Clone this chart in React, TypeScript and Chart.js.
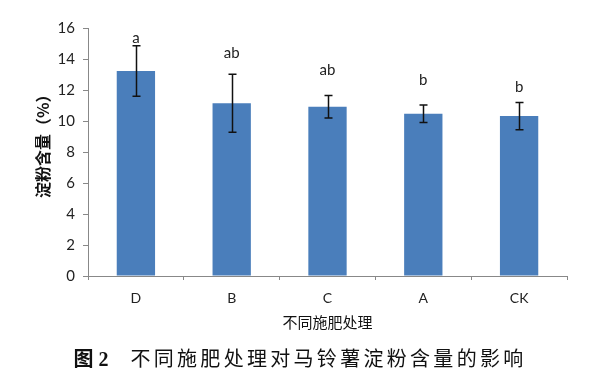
import React, { useEffect, useRef } from "react";
import { Chart, registerables } from "chart.js";

Chart.register(...registerables);

const categories = ["D", "B", "C", "A", "CK"];
const starchContent = [13.23, 11.14, 10.92, 10.47, 10.32];
const stdDev = [1.63, 1.87, 0.73, 0.57, 0.88];
const significance = ["a", "ab", "ab", "b", "b"];
const significanceHeights = [15.37, 14.39, 13.29, 12.65, 12.21];
const yMin = 0;
const yMax = 16;
const yStep = 2;

const xTitle = "不同施肥处理";
const yTitle = "　 淀粉含量（%）";
const captionLabel = "图";
const captionNumber = "2";
const captionText = "不同施肥处理对马铃薯淀粉含量的影响";

const errorBarPlugin = {
  id: "errorBars",
  afterDatasetsDraw(chart: any) {
    const meta = chart.getDatasetMeta(0);
    const yScale = chart.scales.y;
    const ctx = chart.ctx;
    ctx.save();
    ctx.strokeStyle = "#111";
    ctx.lineWidth = 1.5;
    meta.data.forEach((el: any, i: number) => {
      const x = Math.round(el.x) + 0.5;
      const top = yScale.getPixelForValue(starchContent[i] + stdDev[i]);
      const bot = yScale.getPixelForValue(starchContent[i] - stdDev[i]);
      const cap = 4;
      ctx.beginPath();
      ctx.moveTo(x, top);
      ctx.lineTo(x, bot);
      ctx.moveTo(x - cap, top);
      ctx.lineTo(x + cap, top);
      ctx.moveTo(x - cap, bot);
      ctx.lineTo(x + cap, bot);
      ctx.stroke();
    });
    ctx.restore();
  },
};

const letterPlugin = {
  id: "sigLetters",
  afterDatasetsDraw(chart: any) {
    const meta = chart.getDatasetMeta(0);
    const yScale = chart.scales.y;
    const ctx = chart.ctx;
    ctx.save();
    ctx.fillStyle = "#222";
    ctx.font = "15px Lato, 'Open Sans', sans-serif";
    ctx.textAlign = "center";
    ctx.textBaseline = "middle";
    meta.data.forEach((el: any, i: number) => {
      ctx.fillText(significance[i], el.x, yScale.getPixelForValue(significanceHeights[i]));
    });
    ctx.restore();
  },
};

export default function App() {
  const canvasRef = useRef<HTMLCanvasElement | null>(null);

  useEffect(() => {
    if (!canvasRef.current) return;
    const chart = new Chart(canvasRef.current, {
      type: "bar",
      data: {
        labels: categories,
        datasets: [
          {
            data: starchContent,
            backgroundColor: "#4a7ebb",
            borderColor: "#4f81bd",
            borderWidth: 0,
            categoryPercentage: 0.8,
            barPercentage: 0.5,
          },
        ],
      },
      options: {
        responsive: false,
        animation: false,
        devicePixelRatio: 1,
        layout: { padding: { top: 28, right: 33, bottom: 0, left: 0 } },
        plugins: {
          legend: { display: false },
          tooltip: { enabled: false },
          title: { display: false },
        },
        scales: {
          x: {
            grid: {
              display: true,
              drawOnChartArea: false,
              drawTicks: true,
              tickLength: 4,
              color: "#888",
              offset: true,
            },
            border: { display: true, color: "#888", width: 1 },
            ticks: {
              color: "#222",
              padding: 10,
              font: { family: "Lato, 'Open Sans', sans-serif", size: 14 },
            },
            title: {
              display: true,
              text: xTitle,
              color: "#111",
              font: { family: "'Noto Sans CJK SC', sans-serif", size: 15 },
              padding: { top: 0, bottom: 48 },
            },
            afterFit(scale: any) {
              scale.height = 103;
            },
          },
          y: {
            min: yMin,
            max: yMax,
            grid: {
              display: true,
              drawOnChartArea: false,
              drawTicks: true,
              tickLength: 5,
              color: "#888",
            },
            border: { display: true, color: "#888", width: 1 },
            ticks: {
              stepSize: yStep,
              color: "#222",
              padding: 8,
              font: { family: "Lato, 'Open Sans', sans-serif", size: 15 },
            },
            title: {
              display: true,
              text: yTitle,
              color: "#111",
              font: { family: "'Noto Sans CJK SC', sans-serif", size: 16, weight: "bold" },
              padding: { top: 33, bottom: 0 },
            },
            afterFit(scale: any) {
              scale.width = 88;
            },
          },
        },
      },
      plugins: [errorBarPlugin, letterPlugin],
    } as any);
    return () => chart.destroy();
  }, []);

  return (
    <div style={{ position: "absolute", left: 0, top: 0, width: 600, height: 379, background: "#fff" }}>
      <canvas ref={canvasRef} width={600} height={379} style={{ display: "block" }} />
      <div
        style={{
          position: "absolute",
          left: 0,
          top: 346,
          width: 600,
          height: 24,
          lineHeight: "24px",
          textAlign: "center",
          color: "#111",
          fontSize: 20,
          whiteSpace: "nowrap",
        }}
      >
        <span style={{ fontFamily: "'Noto Sans CJK SC', sans-serif", fontWeight: "bold" }}>{captionLabel}</span>
        <span style={{ fontFamily: "'Liberation Serif', serif", fontWeight: "bold", marginLeft: 5 }}>{captionNumber}</span>
        <span
          style={{
            fontFamily: "'Noto Sans CJK SC', sans-serif",
            letterSpacing: 3.3,
            marginLeft: 22,
          }}
        >
          {captionText}
        </span>
      </div>
    </div>
  );
}
